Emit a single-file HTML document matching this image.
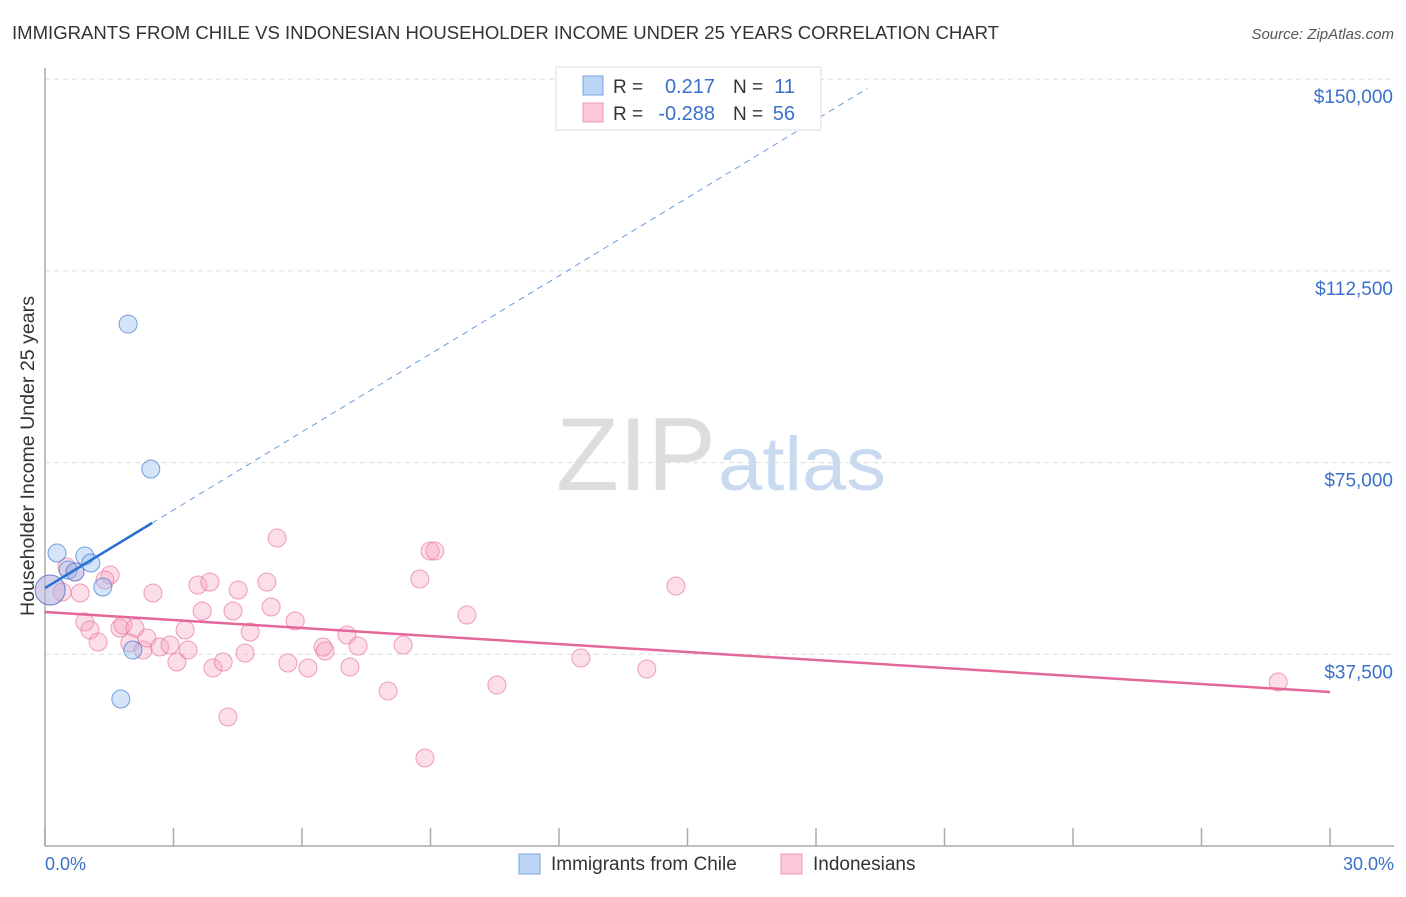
<!DOCTYPE html>
<html><head><meta charset="utf-8"><style>
body{margin:0;background:#fff;font-family:"Liberation Sans",sans-serif;}
svg text{font-family:"Liberation Sans",sans-serif;}
</style></head><body>
<svg id="chart" width="1406" height="892">
<text x="12" y="39" font-size="18" fill="#333" textLength="987" lengthAdjust="spacingAndGlyphs">IMMIGRANTS FROM CHILE VS INDONESIAN HOUSEHOLDER INCOME UNDER 25 YEARS CORRELATION CHART</text>
<text x="1394" y="39" font-size="15" fill="#555" font-style="italic" text-anchor="end">Source: ZipAtlas.com</text>
<text x="716" y="490" font-size="104" fill="#ddd" text-anchor="end" font-family="Liberation Serif" textLength="160" lengthAdjust="spacingAndGlyphs">ZIP</text>
<text x="718" y="490" font-size="76" fill="#c9daf0" textLength="168" lengthAdjust="spacingAndGlyphs">atlas</text>
<g id="grid"></g>
<g id="axes"></g>
<g id="marks"></g>
<text transform="translate(34,456) rotate(-90)" font-size="19" fill="#333" text-anchor="middle" textLength="320" lengthAdjust="spacingAndGlyphs">Householder Income Under 25 years</text>
<text x="45" y="870" font-size="18" fill="#3a70c9">0.0%</text>
<text x="1394" y="870" font-size="18" fill="#3a70c9" text-anchor="end">30.0%</text>
<g>
<rect x="556" y="67" width="265" height="63" fill="#fff" stroke="#ddd"/>
<rect x="583" y="76" width="20" height="19" fill="#bcd4f5" stroke="#7aa6e2"/>
<rect x="583" y="103" width="20" height="19" fill="#fcc7d6" stroke="#ec9bb5"/>
<text x="613" y="93" font-size="19" fill="#333">R =</text>
<text x="715" y="93" font-size="20" fill="#3a70c9" text-anchor="end">0.217</text>
<text x="733" y="93" font-size="19" fill="#333">N =</text>
<text x="795" y="93" font-size="20" fill="#3a70c9" text-anchor="end">11</text>
<text x="613" y="120" font-size="19" fill="#333">R =</text>
<text x="715" y="120" font-size="20" fill="#3a70c9" text-anchor="end">-0.288</text>
<text x="733" y="120" font-size="19" fill="#333">N =</text>
<text x="795" y="120" font-size="20" fill="#3a70c9" text-anchor="end">56</text>
</g>
<g>
<rect x="519" y="854" width="21" height="20" fill="#bcd4f5" stroke="#7aa6e2"/>
<text x="551" y="870" font-size="19" fill="#333">Immigrants from Chile</text>
<rect x="781" y="854" width="21" height="20" fill="#fcc7d6" stroke="#ec9bb5"/>
<text x="813" y="870" font-size="19" fill="#333">Indonesians</text>
</g>
</svg>
<script>
const yTicks=[37500,75000,112500,150000];
const yTickLabels=["$37,500","$75,000","$112,500","$150,000"];
const xTicks=[0,3,6,9,12,15,18,21,24,27,30];
const chileX=[0.12,0.28,0.54,0.93,1.07,1.35,1.94,2.47,2.05,1.77,0.70];
const chileY=[50080,57310,53990,56720,55350,50660,102100,73740,38340,28750,53590];
const indoX=[0.12,0.40,0.51,0.70,0.82,1.52,1.40,0.93,1.05,1.24,1.75,1.82,2.10,1.98,2.29,2.38,2.52,2.68,2.92,3.08,3.27,3.34,3.57,3.85,3.67,3.92,4.16,4.39,4.51,4.67,4.79,5.42,5.18,5.28,5.84,5.67,6.14,6.49,6.54,7.05,7.31,7.12,8.01,8.36,8.75,8.99,9.10,9.85,8.87,4.27,10.55,12.51,14.05,14.73,28.79];
const indoY=[50070,49680,54570,53590,49490,53010,52030,43810,42250,39900,42640,43230,42640,39710,38340,40680,49490,38920,39320,35990,42250,38340,51050,51640,45970,34820,35990,45970,50070,37750,41860,60240,51640,46750,44010,35800,34820,38920,38140,41270,39120,35010,30320,39320,52230,57700,57700,45180,17210,25230,31490,36770,34620,50860,32080];
const chileTrend=[50460,5090];
const indoTrend=[45770,-521.7];
const sx=v=>45+v*1285/30;
const sy=v=>846-v*191.7/37500;
const NS="http://www.w3.org/2000/svg";
function mk(parent,tag,attrs){const e=document.createElementNS(NS,tag);for(const k in attrs)e.setAttribute(k,attrs[k]);document.getElementById(parent).appendChild(e);return e;}
yTicks.forEach((t,i)=>{
 const l=mk('grid','line',{x1:45,x2:1394,y1:sy(t),y2:sy(t),stroke:'#ddd','stroke-dasharray':'5,4'});
 
 
 const tx=mk('grid','text',{x:1393,y:sy(t)+24,'font-size':19,fill:'#3a70c9','text-anchor':'end'});
 tx.textContent=yTickLabels[i];
 
 
});
let a=mk('axes','line',{x1:45,x2:45,y1:68,y2:846,stroke:'#aaa','stroke-width':1.5});


a=mk('axes','line',{x1:45,x2:1394,y1:846,y2:846,stroke:'#aaa','stroke-width':1.5});


xTicks.forEach(t=>{
 const l=mk('axes','line',{x1:sx(t),x2:sx(t),y1:828,y2:846,stroke:'#aaa','stroke-width':1.5});
 
 
});
indoX.forEach((x,i)=>{
 const c=mk('marks','circle',{cx:sx(x),cy:sy(indoY[i]),r:i==0?15:9,fill:'rgba(246,160,190,0.35)',stroke:'rgba(232,120,160,0.7)','stroke-width':1});
 
 
});
chileX.forEach((x,i)=>{
 const c=mk('marks','circle',{cx:sx(x),cy:sy(chileY[i]),r:i==0?15:9,fill:'rgba(150,190,240,0.4)',stroke:'rgba(60,120,210,0.7)','stroke-width':1});
 
 
});
const cy=x=>chileTrend[0]+chileTrend[1]*x;
let t=mk('marks','line',{x1:sx(0),y1:sy(cy(0)),x2:sx(2.5),y2:sy(cy(2.5)),stroke:'#2a6fd6','stroke-width':2.5});


t=mk('marks','line',{x1:sx(2.5),y1:sy(cy(2.5)),x2:sx(19.2),y2:sy(cy(19.2)),stroke:'#6a9be0','stroke-width':1,'stroke-dasharray':'6,5'});


const iy=x=>indoTrend[0]+indoTrend[1]*x;
t=mk('marks','line',{x1:sx(0),y1:sy(iy(0)),x2:sx(30),y2:sy(iy(30)),stroke:'#e5679a','stroke-width':2.5});


</script>
</body></html>
